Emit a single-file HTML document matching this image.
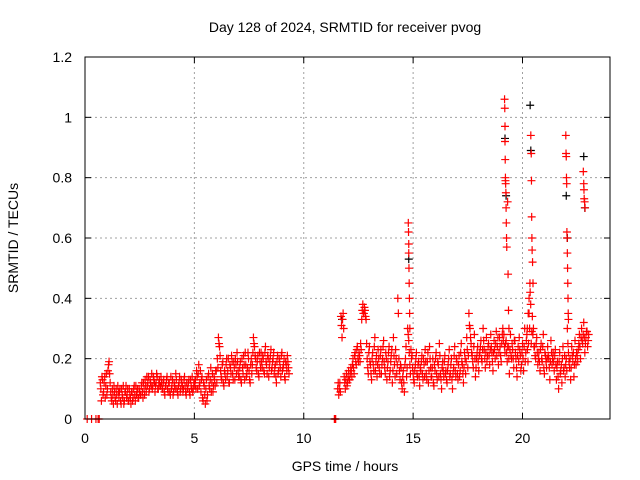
<!DOCTYPE html>
<html><head><meta charset="utf-8"><style>
body{margin:0;background:#fff}
svg{display:block;font-family:"Liberation Sans",sans-serif;font-size:14px}
</style></head><body>
<svg id="chart" width="640" height="480">
<text x="345" y="32" text-anchor="middle">Day 128 of 2024, SRMTID for receiver pvog</text>
<text x="345" y="471" text-anchor="middle">GPS time / hours</text>
<text transform="translate(18,238) rotate(-90)" text-anchor="middle">SRMTID / TECUs</text>
<g id="grid"></g>
<g id="ticks"></g>
<g id="marks"></g>
<rect x="85" y="57" width="525" height="362" fill="none" stroke="#000"/>
</svg>
<script>
const xTicks=[0,5,10,15,20];
const yTicks=[0,0.2,0.4,0.6,0.8,1,1.2];
const yTickLabels=["0","0.2","0.4","0.6","0.8","1","1.2"];
const seg1Start=0.70;
const seg1=[12,6,13,9,14,11,8,
16,19,12,7,10,5,9,6,8,11,
7,10,5,8,11,6,9,7,10,6,8,5,9,7,11,6,8,10,7,9,
8,12,7,10,13,9,11,14,10,12,15,11,13,9,12,14,10,13,11,12,
10,13,8,11,14,9,12,8,10,13,9,11,15,10,8,12,9,13,11,10,14,9,12,10,13,8,11,14,10,12,
13,16,10,18,12,9,14,6,11,5,13,8,15,10,17,12,9,14,11,16,
20,27,24,16,13,19,11,15,18,14,20,12,17,21,15,19,13,18,22,16,
14,19,12,17,21,13,18,15,22,16,12,20,18,27,24,20,16,21,14,19,
22,17,20,15,24,18,21,14,19,23,17,20,15,18,12,21,16,19,14,22,17,20,13,18,21,17];
const seg1bStart=0.725;
const seg1b=[10,14,8,12,7,15,10,
18,15,9,6,8,11,7,10,5,9,
9,6,10,7,5,9,11,8,6,10,7,9,6,10,8,11,9,7,10,8,
11,9,12,8,11,14,12,9,13,11,10,14,12,11,15,10,12,11,14,10,
12,9,11,13,10,12,9,14,11,8,12,10,13,9,11,14,10,12,9,13,11,8,10,12,9,13,10,9,12,11,
10,14,15,11,16,13,7,12,8,10,6,14,11,13,9,15,11,13,16,12,
17,25,21,14,18,12,16,13,20,16,12,18,15,19,13,17,20,15,19,14,
17,13,20,15,18,22,14,17,20,13,18,15,22,25,21,17,19,15,22,17,
19,21,16,22,19,15,20,17,21,16,19,22,17,14,19,15,20,17,21,16,18,14,19,16,19,15];
const seg2Start=11.55;
const seg2=[10,8,12,34,27,35,14,10,15,12,16,13,17,14,20,15,22,18,24,19,
21,25,33,38,35,36,33,20,15,24,18,13,22,16,27,19,14,23,17,21,
15,20,26,17,22,13,19,24,16,21,12,27,18,23,15,40,20,13,17,10,
16,9,20,14,30,26,18,23,21,15,12,18,22,14,19,11,16,21,13,18,
23,15,19,12,24,17,14,20,11,16,22,13,18,25,15,10,19,14,21,16,
12,18,23,15,20,10,17,24,14,19,13,21,16,25,18,12,22,15,27,17,
35,30,25,21,17,28,14,20,24,16,22,26,19,30,23,17,27,21,25,18,
28,22,16,26,20,29,24,18,27,21,25,30,28,22,26,19,24,15,28,20,
23,17,26,20,14,24,27,21,18,25,16,30,22,28,19,35,42,25,34,30,
24,20,27,18,22,16,25,19,28,15,21,17,24,20,13,26,18,22,16,23,
13,19,10,22,16,12,24,17,14,20,30,22,17,13,24,19,14,26,18,21,
23,28,20,30,25,32,22,27,29,26];
const seg2bStart=11.575;
const seg2b=[12,10,9,31,33,30,12,13,11,14,13,15,16,18,17,21,19,23,20,22,
19,23,36,35,37,34,25,17,22,19,15,20,18,24,16,21,18,20,15,23,
18,24,19,15,20,17,22,14,19,23,16,21,14,20,18,35,16,18,12,14,
12,18,24,17,28,22,15,20,17,13,16,20,15,18,14,17,19,15,20,14,
19,13,22,16,20,14,17,12,18,20,15,19,14,21,13,17,16,19,15,13,
16,20,14,18,13,15,21,16,20,15,18,14,22,19,15,17,20,19,23,21,
31,27,22,19,24,20,17,22,19,21,24,20,23,26,20,22,19,24,21,23,
24,19,22,23,25,21,27,22,24,19,28,26,24,25,22,24,20,23,21,25,
20,26,22,17,21,19,23,16,22,20,24,19,26,23,25,30,38,29,28,24,
21,25,22,20,19,23,20,24,17,22,19,20,21,17,19,22,20,19,21,18,
17,14,19,15,18,20,16,21,18,16,25,19,20,17,21,22,18,20,22,19,
25,24,27,26,28,27,25,29,24,28];
const spikeT=[14.78,14.79,14.80,14.80,14.81,14.82,14.83,14.84,14.85,
19.18,19.19,19.20,19.20,19.21,19.22,19.22,19.23,19.24,19.25,19.26,19.27,19.28,19.32,19.34,19.36,19.38,
20.22,20.26,20.30,20.34,20.38,20.40,20.41,20.42,20.43,20.44,20.46,20.48,
21.98,21.99,22.00,22.01,22.02,22.03,22.04,22.05,22.06,22.07,22.08,22.09,22.10,
22.78,22.80,22.81,22.82,22.84,22.86];
const spikeV=[0.65,0.62,0.58,0.55,0.50,0.45,0.40,0.35,0.30,
1.06,1.03,0.97,0.92,0.86,0.80,0.79,0.78,0.75,0.70,0.65,0.60,0.57,0.72,0.48,0.36,0.30,
0.30,0.35,0.40,0.45,0.94,0.88,0.79,0.67,0.60,0.56,0.52,0.45,
0.94,0.88,0.87,0.80,0.78,0.62,0.60,0.55,0.50,0.45,0.40,0.35,0.33,
0.82,0.78,0.76,0.73,0.72,0.70];
const zeroT=[0.10,0.30,0.50,0.60,0.65,11.40,11.42,11.44,11.46];
const blackT=[20.35,20.38,22.00,22.05,22.80,22.85,14.80,19.20,19.25,11.75];
const blackV=[1.04,0.89,0.74,0.60,0.87,0.70,0.53,0.93,0.74,0.33];

const X=t=>85+t*(525/24);
const Y=v=>419-v*(362/1.2);
const NS="http://www.w3.org/2000/svg";
function mk(tag,attrs,parent){const e=document.createElementNS(NS,tag);for(const k in attrs)e.setAttribute(k,attrs[k]);parent.appendChild(e);return e;}
const grid=document.getElementById('grid'),ticks=document.getElementById('ticks'),marks=document.getElementById('marks');
xTicks.forEach(t=>{
  const x=X(t);
  if(t>0){const g=mk('line',{x1:x,y1:57,x2:x,y2:419,stroke:'#a0a0a0','stroke-dasharray':'2,3'},grid);
  
  }
  mk('line',{x1:x,y1:419,x2:x,y2:413,stroke:'#000'},ticks);
  mk('line',{x1:x,y1:57,x2:x,y2:63,stroke:'#000'},ticks);
  const l=mk('text',{x:x,y:443,'text-anchor':'middle'},ticks);l.textContent=String(t);
  
  
});
yTicks.forEach((v,i)=>{
  const y=Y(v);
  if(v>0&&v<1.2){const g=mk('line',{x1:85,y1:y,x2:610,y2:y,stroke:'#a0a0a0','stroke-dasharray':'2,3'},grid);
  
  }
  mk('line',{x1:85,y1:y,x2:91,y2:y,stroke:'#000'},ticks);
  mk('line',{x1:610,y1:y,x2:604,y2:y,stroke:'#000'},ticks);
  const l=mk('text',{x:72,y:y+5,'text-anchor':'end'},ticks);l.textContent=yTickLabels[i];
  
  
});
function plus(t,v,col){
  const x=X(t),y=Y(v);
  const p=mk('path',{d:`M${x-4},${y}h8M${x},${y-4}v8`,stroke:col,'stroke-width':1.2,fill:'none'},marks);
  
  
}
blackT.forEach((t,i)=>plus(t,blackV[i],'#000'));
seg1.forEach((v,i)=>plus(seg1Start+i*0.05,v/100,'#ff0000'));
seg1b.forEach((v,i)=>plus(seg1bStart+i*0.05,v/100,'#ff0000'));
seg2.forEach((v,i)=>plus(seg2Start+i*0.05,v/100,'#ff0000'));
seg2b.forEach((v,i)=>plus(seg2bStart+i*0.05,v/100,'#ff0000'));
spikeT.forEach((t,i)=>plus(t,spikeV[i],'#ff0000'));
zeroT.forEach(t=>plus(t,0,'#ff0000'));
</script>
</body></html>
